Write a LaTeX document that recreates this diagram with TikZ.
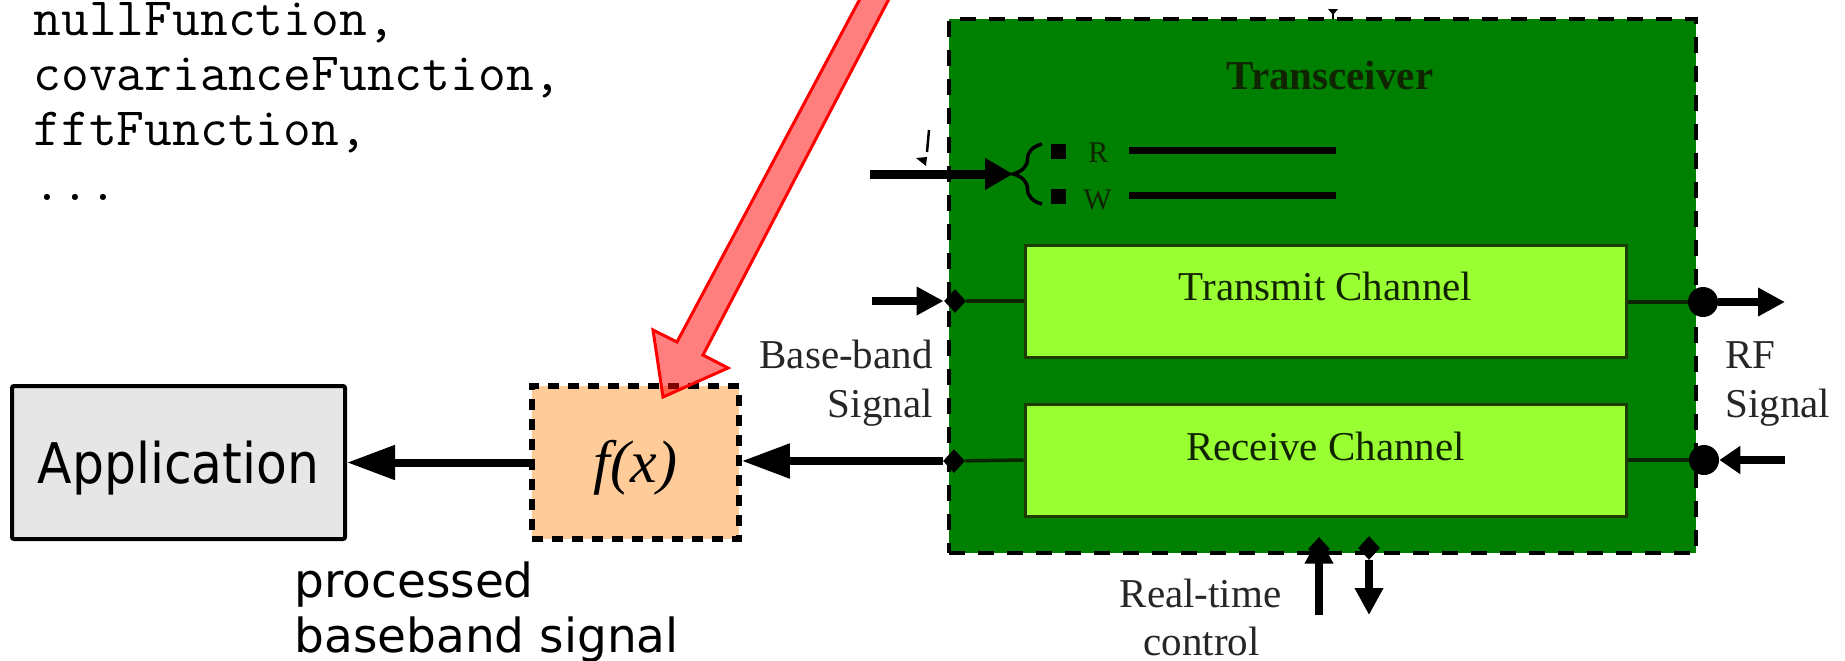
\documentclass[tikz,border=0pt]{standalone}
\usepackage{fontspec}
\usetikzlibrary{arrows.meta,shapes.geometric,decorations.pathreplacing}

\newfontfamily\codefont{Latin Modern Mono}
\newfontfamily\labelsans{DejaVu Sans}
\newfontfamily\appsans[FakeStretch=0.9]{DejaVu Sans}
\newfontfamily\txserif{Liberation Serif}

\definecolor{boxgreen}{HTML}{008000}
\definecolor{chanfill}{HTML}{99FF33}
\definecolor{chanline}{HTML}{1E3C00}
\definecolor{wireink}{HTML}{0A2600}
\definecolor{appgray}{HTML}{E6E6E6}
\definecolor{peach}{HTML}{FFCC99}
\definecolor{inkgray}{HTML}{262626}
\definecolor{chantext}{HTML}{102400}

\tikzset{
  codeline/.style={anchor=base west, inner sep=0pt,
    font=\codefont\fontsize{27pt}{30pt}\selectfont},
  appbox/.style={draw, line width=2pt, fill=appgray, rounded corners=1pt,
    minimum width=166.5pt, minimum height=76.5pt, inner sep=0pt,
    text height=20.5pt, text depth=0pt,
    font=\appsans\fontsize{28pt}{32pt}\selectfont},
  fxbox/.style={draw, line width=2.75pt, dash pattern=on 5.5pt off 4.5pt,
    fill=peach, minimum width=103.5pt, minimum height=76.5pt, inner sep=0pt,
    text height=19.5pt, text depth=0pt,
    font=\txserif\itshape\fontsize{30pt}{34pt}\selectfont},
  sanslabel/.style={anchor=base west, inner sep=0pt,
    font=\labelsans\fontsize{23.5pt}{27pt}\selectfont},
  trxbox/.style={draw, line width=2.25pt, dash pattern=on 8pt off 6.5pt,
    fill=boxgreen, minimum width=373.5pt, minimum height=267pt, inner sep=0pt},
  chanbox/.style={draw=chanline, line width=1.5pt, fill=chanfill,
    minimum width=300.5pt, minimum height=56pt, inner sep=0pt, text=chantext,
    font=\txserif\fontsize{20.5pt}{24pt}\selectfont},
  lbl/.style={inner sep=0pt, text=inkgray,
    font=\txserif\fontsize{20.5pt}{24pt}\selectfont},
  rwlabel/.style={anchor=base west, inner sep=0pt, text=chantext,
    font=\txserif\fontsize{15pt}{18pt}\selectfont},
  rwsq/.style={fill=black, minimum size=7.5pt, inner sep=0pt},
  rwline/.style={line width=3.5pt},
  portdia/.style={diamond, fill=black, inner sep=0pt,
    minimum width=11pt, minimum height=12pt},
  portdot/.style={circle, fill=black, inner sep=0pt, minimum size=15pt},
  wire/.style={draw=wireink, line width=1.75pt},
  bigarrow/.style={line width=4pt, -{Triangle[length=24pt,width=16.5pt]}},
  portarrow/.style={line width=4pt, -{Triangle[length=13.5pt,width=13.5pt]}},
}

\begin{document}
\begin{tikzpicture}[x=0.5pt,y=-0.5pt]
  \useasboundingbox (0,0) rectangle (1845,660);
  \fill[white] (0,0) rectangle (1845,660);

  % list of processing functions
  \node[codeline] (code1) at (33,35)  {nullFunction,};
  \node[codeline] (code2) at (33,90)  {covarianceFunction,};
  \node[codeline] (code3) at (33,145) {fftFunction,};
  \node[codeline] (code4) at (33,200) {...};

  % application and processing block
  \node[appbox] (app) at (178.5,462.5) {Application};
  \node[fxbox] (fx) at (635.5,462.5) {f(x)};
  \node[sanslabel] (proc1) at (294,597) {processed};
  \node[sanslabel] (proc2) at (294,652) {baseband signal};

  % transceiver
  \node[trxbox] (trx) at (1322.5,286) {};
  \node[anchor=base, inner sep=0pt, text=chantext,
        font=\txserif\bfseries\fontsize{20.5pt}{24pt}\selectfont]
        (trxtitle) at (1330,89) {Transceiver};

  % register read/write selector
  \node[rwsq] (rsq) at (1058,151) {};
  \node[rwsq] (wsq) at (1058,196) {};
  \node[rwlabel] (rlab) at (1088,162) {R};
  \node[rwlabel] (wlab) at (1083,209) {W};
  \coordinate (rA) at (1129,150);
  \coordinate (rB) at (1336,150);
  \coordinate (wA) at (1129,195);
  \coordinate (wB) at (1336,195);
  \draw[rwline] (rA) -- (rB);
  \draw[rwline] (wA) -- (wB);
  \draw[line width=1.75pt, decorate, decoration={brace, amplitude=14.5pt}]
    (1042,204) -- (1042,144);
  \coordinate (bracetip) at (1013,174);
  \coordinate (rwin) at (870,174);
  \draw[line width=4.5pt, -{Triangle[length=14pt,width=15pt]}] (rwin) -- (bracetip);

  % channels
  \node[chanbox, text height=0pt, text depth=1pt] (tx) at (1325.5,301) {Transmit Channel};
  \node[chanbox, text height=0pt, text depth=0pt] (rx) at (1325.5,460) {Receive Channel};

  % ports on the transceiver border
  \node[portdia] (txdia) at (955,301) {};
  \node[portdia] (rxdia) at (954,461) {};
  \node[portdot] (txdot) at (1703,302) {};
  \node[portdot] (rxdot) at (1704,460) {};
  \node[portdia] (updia) at (1319,549) {};
  \node[portdia] (dndia) at (1369,548) {};

  \draw[wire] (txdia) -- (tx.west);
  \draw[wire] (rxdia) -- (rx.west);
  \draw[wire] (txdot -| tx.east) -- (txdot);
  \draw[wire] (rxdot -| rx.east) -- (rxdot);

  % signal arrows
  \coordinate (bbin) at (872,301);
  \draw[portarrow] (bbin) -- (txdia.west);
  \draw[bigarrow] (rxdia.west) -- (rxdia -| fx.east);
  \draw[bigarrow] (fx.west) -- (fx.west -| app.east);

  \coordinate (rfout) at (1785,302);
  \coordinate (rfin) at (1785,460);
  \draw[portarrow] (txdot) -- (rfout);
  \draw[line width=4pt, -{Triangle[length=10.5pt,width=13.5pt]}] (rfin) -- (rxdot);

  \coordinate (upfoot) at (1319,615);
  \coordinate (dnfoot) at (1369,615);
  \draw[portarrow] (upfoot) -- (updia.north);
  \draw[portarrow] (dndia.south) -- (dnfoot);

  % port labels
  \node[lbl, anchor=base east] (bb1) at (933,368) {Base-band};
  \node[lbl, anchor=base east] (bb2) at (933,417) {Signal};
  \node[lbl, anchor=base west] (rf1) at (1725,368) {RF};
  \node[lbl, anchor=base west] (rf2) at (1725,417) {Signal};
  \node[lbl, anchor=base] (rt1) at (1200.5,607) {Real-time};
  \node[lbl, anchor=base] (rt2) at (1201.5,655) {control};

  % small marks left over near the border
  \draw[line width=1.25pt] (929,130) -- (927,152);
  \fill (916,158) -- (927,157) -- (926,166) -- cycle;
  \fill (1328,9) -- (1338,9) -- (1333,15) -- cycle;
  \draw[line width=0.75pt] (1333,12) -- (1333,19);

  % red pointer onto the processing block
  \coordinate (redtip) at (663,397);
  \filldraw[draw=red, fill=red, fill opacity=0.5, line width=1.5pt, line join=miter]
    (862,-5) -- (677,342) -- (653,330) -- (redtip) -- (728,368) -- (703,355)
    -- (891,-5) -- cycle;
\end{tikzpicture}
\end{document}
